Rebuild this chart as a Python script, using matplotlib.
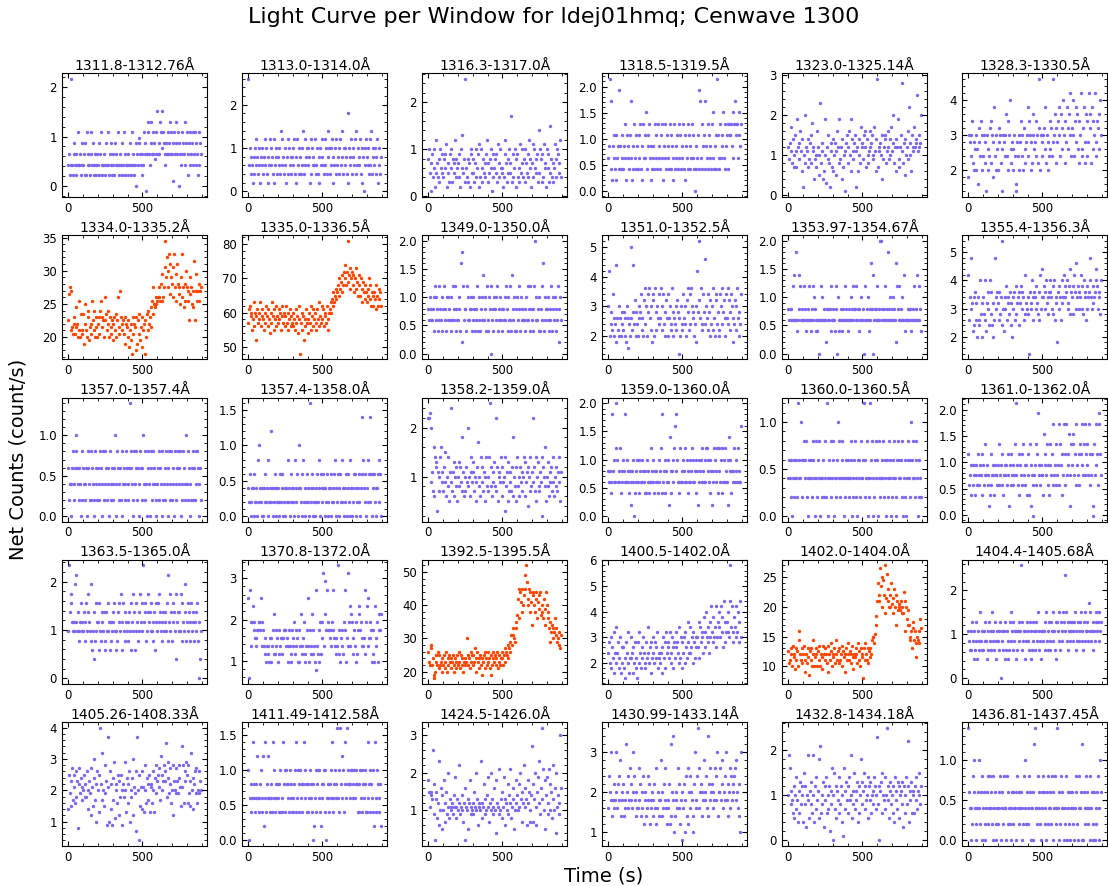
import numpy as np
import matplotlib.pyplot as plt
from matplotlib.ticker import AutoMinorLocator, MaxNLocator

# each light curve is stored as a string of count-rate levels (one char per 5 s bin)
LEVEL_CHARS = "0123456789abcdefghijklmnopqrstuvwxyzABCDEFGHIJKLMNOPQRSTUVWXYZ"
CADENCE = 5.0

window_titles = [
    "1311.8-1312.76Å", "1313.0-1314.0Å", "1316.3-1317.0Å", "1318.5-1319.5Å", "1323.0-1325.14Å", "1328.3-1330.5Å",
    "1334.0-1335.2Å", "1335.0-1336.5Å", "1349.0-1350.0Å", "1351.0-1352.5Å", "1353.97-1354.67Å", "1355.4-1356.3Å",
    "1357.0-1357.4Å", "1357.4-1358.0Å", "1358.2-1359.0Å", "1359.0-1360.0Å", "1360.0-1360.5Å", "1361.0-1362.0Å",
    "1363.5-1365.0Å", "1370.8-1372.0Å", "1392.5-1395.5Å", "1400.5-1402.0Å", "1402.0-1404.0Å", "1404.4-1405.68Å",
    "1405.26-1408.33Å", "1411.49-1412.58Å", "1424.5-1426.0Å", "1430.99-1433.14Å", "1432.8-1434.18Å", "1436.81-1437.45Å",
]

# windows that brighten strongly during the flare
flare_windows = [
    "1334.0-1335.2Å", "1335.0-1336.5Å", "1392.5-1395.5Å", "1402.0-1404.0Å",
]

# net count rate of level 0 and the size of one level, per window
zero_level = [
    -0.1085, 0.0, 0.0, -0.017, 0.0, 1.4,
    17.0, 46.0, 0.0, 1.4, 0.0, 1.2,
    0.0, 0.0, 0.0, 0.0, 0.0, -0.02,
    0.0, 0.58, 18.0, 0.8, 8.0, 0.0,
    0.3, 0.0, 0.2, 0.6, 0.0, 0.0,
]
level_step = [
    0.1085, 0.2, 0.1, 0.217, 0.1, 0.2,
    0.5, 1.0, 0.2, 0.2, 0.2, 0.2,
    0.2, 0.2, 0.1, 0.2, 0.2, 0.195,
    0.195, 0.195, 1.0, 0.2, 0.5, 0.214,
    0.1, 0.2, 0.1, 0.2, 0.1, 0.2,
]

rate_codes = [
    # 1311.8-1312.76
    "5735l53795" "375b557395" "57393b5753" "7b59357537" "5937b53575" "395b537593"
    "5739575b53" "75395b3755" "375953b573" "59175a9753" "75b9707db7" "59d7b796b7"
    "f797dbf8b9" "7597b79d7b" "792b7d97b1" "975b797d59" "b7395b795b" "7b5973b597",
    # 1313.0-1314.0
    "d352431425" "3642531453" "2463521436" "3542613452" "4352736425" "3146253424"
    "5362416352" "4253726345" "3541625343" "6235241536" "4326352745" "2536143526"
    "3452637425" "5342915436" "2453627354" "3625140536" "4352637245" "3542613524",
    # 1316.3-1317.0
    "8a57194a62" "5c7483a695" "4869b25739" "6a3857c486" "7492a6d583" "p648372a95"
    "5837a4692b" "4a6385749c" "3758a61946" "8593b74a65" "6249c7385a" "57h3946a82"
    "9463b57a48" "3a7594c682" "7b4a68593e" "5a8394b762" "a693f58473" "6b48a975c4",
    # 1318.5-1319.5
    "34a8214352" "5134924253" "2436153425" "3812463524" "2536241635" "3724563412"
    "4326352643" "2536143625" "3426254316" "2345263524" "3625143625" "2436352042"
    "3529836245" "2843625342" "6372452a53" "2634573264" "5266556473" "6856637546",
    # 1323.0-1325.14
    "c9dbh8ea7f" "b7jcd9gb6e" "2a8kcb7e9d" "f8ibc49a7g" "c5an8db46j" "a3c9f82bd7"
    "e6ad5bgc8j" "9c4e7ab1df" "c8gaj6eb9d" "fb2c6ae8hc" "d9fgc7ea8b" "gcdfa9hbe6"
    "t7bcda4f9c" "ef8bgc9aeh" "bdk8ce6cj9" "7cfbs8d5ea" "c9gmda6fcb" "hcdepbfcdk",
    # 1328.3-1330.5
    "28785a4376" "8361795a38" "5874083659" "a4827c5386" "3798460875" "8b5a38d647"
    "3685017583" "7a85396478" "c5a83748b6" "75a849g387" "5896c48735" "a6957g8b49"
    "7a8c5b96d8" "4a7c96b8e5" "98d5ac7b64" "a8e659c74b" "5a7e9b4ca6" "8e57a9b6d8",
    # 1334.0-1335.2
    "bjlk897ac7" "9fa6h86d87" "d4ag86ec59" "a7hb8e69c6" "ac7eh9cb6i" "bd8ea6c79b"
    "a5c86dbi79" "kc8ab7c4a9" "6b38a51c7a" "9c24b7d593" "c8a1b6d8ea" "cf9hdlgfig"
    "hilihmhpil" "zroulqvjso" "mrivlphsmj" "lgoivlfmhq" "lhkbojlgfk" "tbpkhkmhkl",
    # 1335.0-1336.5
    "bfged9chae" "6dfbechadf" "c9ebgdafc8" "ebhd9fcagd" "bfce9gdbea" "dgb9ecfadb"
    "eac9fbd8gc" "2be9d6cafb" "c8ebg9dfac" "eb9fchadbg" "cfaedbgc9e" "fheigkhjli"
    "kmjolnpkmq" "osmqnzplro" "qmpkorlnjp" "mjolhnkimk" "hljoimgkjg" "kifmjglikg",
    # 1349.0-1350.0
    "4353434526" "3542634352" "4634253543" "2536436243" "3452819634" "4263534452"
    "3542436253" "2453734526" "3254063425" "4536243534" "2435364253" "3627435242"
    "5346253433" "4253634624" "3426a35342" "5243682534" "4352436254" "3524361453",
    # 1351.0-1352.5
    "8e3574a365" "2f64836357" "4736286153" "6i4f759375" "3687a4639b" "583a7b6482"
    "9a3b7486a5" "6b48a57396" "3a6845b736" "5849706385" "4a65839b74" "a5b8763582"
    "e7j96b54a7" "5g86a47395" "8b4639a574" "3a8b57936a" "6b5947a826" "5948b6375a",
    # 1353.97-1354.67
    "4343436373" "9323476343" "3634233463" "2343654232" "3303635343" "3143434263"
    "3432640532" "3423436343" "2343534634" "4363424353" "3403634352" "4384703434"
    "6343aa3434" "3634394353" "4354381643" "6343537323" "3434342343" "6343736342",
    # 1355.4-1356.3
    "f7bi9a5b6c" "7a4b67e8a4" "b8e75a9c6e" "8c6a47i9bc" "a7c8b6l95b" "9d7ab8c6a4"
    "b9c7d8ab6c" "ad9cb7f8a9" "8b1c9ae7bc" "b9da8c7f9b" "gbd9cea8bc" "ecb9d8e7ab"
    "3c9db7eabf" "dbcea9d8gc" "b8dfc9hbd9" "cbf9d8ecb7" "9dbcieb9ad" "bcegd9cb8e",
    # 1357.0-1357.4
    "3120234123" "5432312041" "3212304321" "1432104231" "3214320412" "4312304213"
    "2135204321" "3104231243" "1237432104" "2341302431" "3524120342" "0431243210"
    "2314320412" "3142034214" "1320412342" "3401243125" "2413201341" "3142430231",
    # 1357.4-1358.0
    "2130122031" "1204152102" "0213120412" "1620213021" "2103123012" "0214120312"
    "1204213052" "2130412013" "1208213021" "0213124032" "1320213102" "2031213420"
    "1302314120" "2130231042" "0213302123" "1027342130" "2143713032" "3120231430",
    # 1358.2-1359.0
    "mmnk9b7g6e" "cd3b7aeg9b" "7c9f6a8e5b" "9o7b6da8c5" "ad8c9i7b6a" "7c9k8a6be9"
    "bd7a59ch8a" "6e9c7b5ae8" "a7ep8c6b9d" "8m7c5ab9e6" "c9a3e8b5d7" "9b7ci6a8c5"
    "e8a6c9b7ae" "6d9b4ca7e8" "bm9c7e5ad8" "7b9e2ca8g5" "a8d6b9c7e9" "6a8c7b9e5b",
    # 1359.0-1360.0
    "4342394353" "6a53436243" "5439353424" "1343502435" "3524353432" "4253423634"
    "3524343253" "4629342543" "3517424356" "8495323634" "3543635243" "5346353425"
    "4153456343" "3566543524" "1436543626" "4352635634" "3517452434" "6345364338",
    # 1360.0-1360.5
    "2321302132" "2316232531" "3423412032" "2314320421" "3240212314" "2162032412"
    "3402123524" "1243202132" "2312430213" "4210323142" "2361324021" "6234021342"
    "3042123241" "2303214320" "1324201342" "3231402130" "2342315324" "2143203121",
    # 1361.0-1362.0
    "6345253542" "4536345462" "5347454312" "3645425443" "5374536245" "4536415364"
    "3547b45326" "5436745352" "4627514304" "5376a45354" "4285647532" "5746934573"
    "4593756249" "6394568417" "5874639546" "3769547496" "5749364610" "7495639a64",
    # 1363.5-1365.0
    "5c7986565a" "6b57456856" "5746859765" "4a35274856" "6835476573" "4758563645"
    "7685354786" "5936857465" "6475836957" "3856475968" "5c67845796" "7585647386"
    "5869756475" "6758b46597" "4687592675" "7594865a74" "6857468576" "4675840625",
    # 1370.8-1372.0
    "a0b4779765" "5466776a74" "6435243425" "2546383645" "2364535566" "6454264236"
    "5473645262" "4843573246" "4a26438364" "2b14362735" "7d48c6b766" "5467b65435"
    "4e36254637" "6b25d47948" "7536427369" "8675445b37" "9a45756263" "2945726868",
    # 1392.5-1395.5
    "854a946012" "7548374526" "4735826475" "6357426537" "4853746254" "65c7463857"
    "4759628536" "7461573864" "5863714685" "7468357468" "6479587a69" "b8dafdcbhf"
    "joriqnkrmp" "vrytmorkqn" "gqpmkqoinl" "pqjmkioglq" "mkifhbegcf" "eidfbcea9d",
    # 1400.5-1402.0
    "8a65b97c48" "6d8a57b496" "9573a86c47" "7b8496a573" "a6c8597b86" "5a7d8694a7"
    "8b6a79c578" "6894b7a5c8" "9a7c68b59a" "7c9a86d7b5" "a8b6c97ea8" "8d9b6ca7b9"
    "b9e7dabc8f" "9cgbad8ebh" "cafbd9hbeg" "dbhcf9iaec" "ecgbipdhca" "fdbhcgaeib",
    # 1402.0-1404.0
    "956a84b783" "a694gd86a5" "8b6285a719" "6a4d847a84" "96b4837b86" "a85b286c94"
    "87a58d695a" "68b49782a6" "8c6958b738" "7a85c694a7" "80a6c86a59" "7a8deecfil"
    "qwsqBvoyxs" "Cmrzquoosw" "prmuoisqno" "pnqmomtqgo" "kniiedgajh" "dgc7edgckh",
    # 1404.4-1405.68
    "5435364253" "4625347453" "3546425364" "5374536245" "4536045352" "6352436475"
    "3645253564" "5c36452546" "4536253645" "3564735425" "5456374536" "4365745362"
    "6547364576" "5b74635465" "6456735464" "5674536745" "6548574536" "5467564756",
    # 1405.26-1408.33
    "bmgkcoeimd" "nfk5joglie" "hmfjfnhbkg" "9oiclrej7n" "hamBjethcp" "gk6yi7nbj6"
    "leq8jhdm9k" "fm6hjfqhal" "jdn7hfl9ri" "g4nyh1mcib" "niaphdljem" "aijdnhalpg"
    "kmoieshmkp" "nkwfqlgojd" "hp9khgokgl" "picvipdnkq" "mdpgkcthlb" "jngodhngkh",
    # 1411.49-1412.58
    "5032437342" "3463234532" "6173243632" "4327352434" "3245232745" "2543425342"
    "3245273524" "5342475342" "2435342041" "3524535214" "3452503432" "4357234543"
    "8352846352" "4738454345" "5345354424" "2535243452" "2374524352" "1723542341",
    # 1424.5-1426.0
    "gd9dcbo7f0" "db6al48e3c" "8g5ad79i6b" "98a7c9h69b" "8ak79c85ae" "098b3ag798"
    "a7d9i8b49a" "8l6a9f7b8c" "h95a8ib79e" "82ga97j8b6" "d9h4ba8f7c" "aj69be38ga"
    "c8f9ib5dak" "9eb4gad85c" "pf5bi94dha" "l7eubj8g3c" "ha7j8fd6kb" "8e2i9c7ase",
    # 1430.99-1433.14
    "5976c46856" "7c5869b476" "8465d7596a" "6857c96475" "5a68475936" "7459683657"
    "4685a35764" "6b74586a53" "5683d47e62" "4765a58361" "7582694a37" "5976248c65"
    "9f5a78476b" "6795e48a67" "8576a69c47" "7a68b5796c" "6847a59678" "9a6b75842c",
    # 1432.8-1434.18
    "ajg8b96c5a" "7e94b6d8ca" "4f8c3a9j5b" "8d6ja4c7e9" "b5il6a8d3c" "9e6a7c2b8g"
    "a0f7c5b9e6" "8c4a1gb7d9" "c6e9ja5b8f" "7b9d4c6ai8" "dbf7c9a5ec" "9d6ab8eca7"
    "n8c0bd6fa9" "e7ap9c5db8" "a6c4e9b7dc" "5ab8d3c6ae" "8cm4b9d6ba" "6c9e7baf8c",
    # 1436.81-1437.45
    "7320214352" "1023521304" "2301234124" "3210423012" "1324032142" "2041321203"
    "3122304231" "2302142513" "1243022306" "7221432103" "2431203142" "3214032412"
    "7203142320" "2140321302" "3120243102" "4230603214" "2312042310" "3021342053",
]

QUIET_COLOR = "#7B68EE"
FLARE_COLOR = "#FF4500"
NICE_STEPS = [1, 2, 2.5, 5, 10]


def decode(code, base, step):
    idx = np.array([LEVEL_CHARS.index(c) for c in code], dtype=float)
    return base + step * idx


fig, axes = plt.subplots(5, 6, figsize=(11.08, 8.86), dpi=100)
fig.subplots_adjust(left=0.0557, right=0.9995, top=0.9176, bottom=0.0451,
                    wspace=0.235, hspace=0.308)

for ax, title, code, base, step in zip(axes.flat, window_titles, rate_codes,
                                       zero_level, level_step):
    rate = decode(code, base, step)
    time = np.arange(len(rate)) * CADENCE
    color = FLARE_COLOR if title in flare_windows else QUIET_COLOR
    ax.scatter(time, rate, s=6, color=color, linewidths=0)
    ax.set_title(title, fontsize=10, pad=2.5)
    ax.xaxis.set_major_locator(MaxNLocator(nbins=3, steps=NICE_STEPS))
    ax.yaxis.set_major_locator(MaxNLocator(nbins=5, steps=NICE_STEPS))
    ax.xaxis.set_minor_locator(AutoMinorLocator())
    ax.yaxis.set_minor_locator(AutoMinorLocator())
    ax.tick_params(which="both", direction="in", top=True, right=True,
                   labelsize=8.5)
    ax.tick_params(which="major", length=3.5)
    ax.tick_params(which="minor", length=2)

fig.text(0.5, 0.981, "Light Curve per Window for ldej01hmq; Cenwave 1300",
         ha="center", va="center", fontsize=16)
fig.text(0.545, 0.0113, "Time (s)", ha="center", va="center", fontsize=14)
fig.text(0.016, 0.481, "Net Counts (count/s)", ha="center", va="center",
         rotation=90, fontsize=14)

fig.savefig("out.png", dpi=100)
